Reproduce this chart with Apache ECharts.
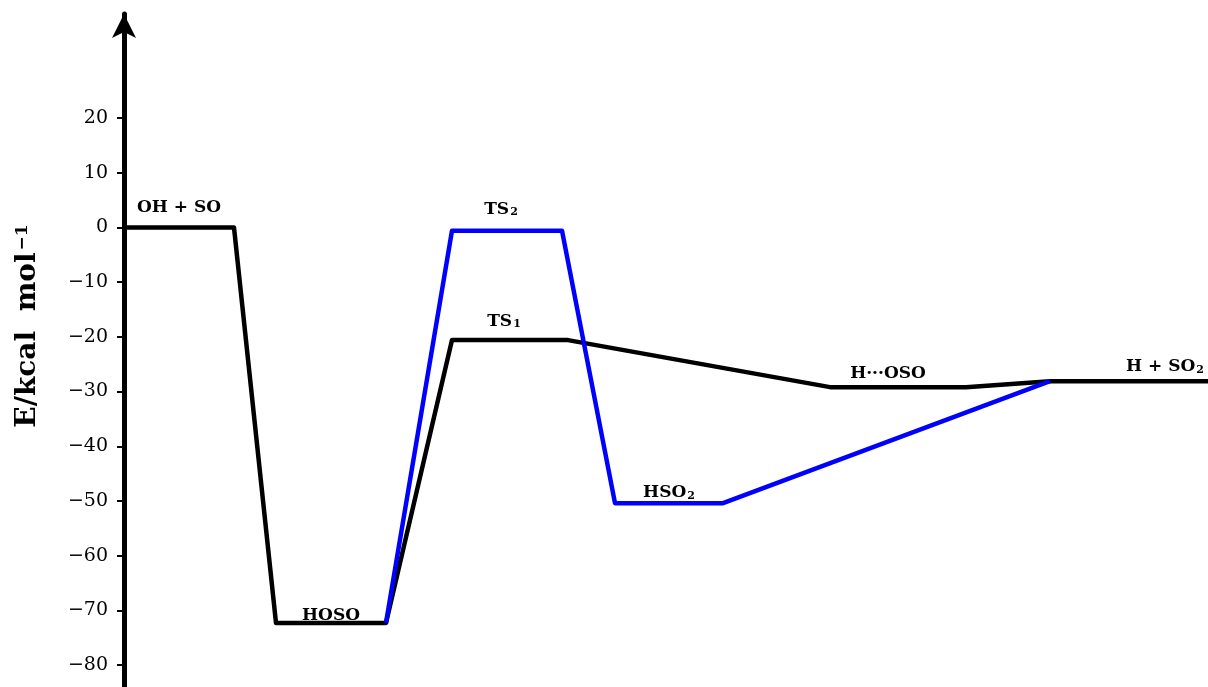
<!DOCTYPE html>
<html lang="en">
<head>
  <meta charset="UTF-8">
  <title>Energy profile</title>
  <script src="https://cdn.jsdelivr.net/npm/echarts@6/dist/echarts.min.js"></script>
  <style>
    html, body { margin: 0; padding: 0; background: #fff; }
    #main { width: 1208px; height: 687px; }
  </style>
</head>
<body>
  <div id="main"></div>
  <script>
    // reaction path, x is just position along the diagram
    var blackX = [0, 110, 152, 262, 328, 444, 706, 842, 926, 1084];
    var blackE = [0, 0, -72.3, -72.3, -20.6, -20.6, -29.2, -29.2, -28.1, -28.1];

    var blueX = [262, 328, 438, 491, 599, 926];
    var blueE = [-72.3, -0.6, -0.6, -50.4, -50.4, -28.1];

    // species names, which path they sit on and index of their plateau start
    var stateNames = ['OH + SO', 'HOSO', 'TS{s|1}', 'TS{s|2}', 'HSO{s|2}', 'H\u00b7\u00b7\u00b7OSO', 'H + SO{s|2}'];
    var statePath = ['black', 'black', 'black', 'blue', 'blue', 'black', 'black'];
    var stateIdx = [0, 2, 4, 1, 3, 6, 8];

    var yTicks = [20, 10, 0, -10, -20, -30, -40, -50, -60, -70, -80];

    // label placement tweaks (distance above line, x shift)
    var labelDist = [11, -1, 10, 13, 2, 5, 6];
    var labelShift = [0, 0, -6, -6, 0, -10, 36];

    var paths = {
      black: { x: blackX, e: blackE },
      blue: { x: blueX, e: blueE }
    };

    function zip(xs, ys) {
      var out = [];
      for (var i = 0; i < xs.length; i++) out.push([xs[i], ys[i]]);
      return out;
    }

    function labelData() {
      var out = [];
      for (var i = 0; i < stateNames.length; i++) {
        var p = paths[statePath[i]];
        var k = stateIdx[i];
        out.push({
          value: [(p.x[k] + p.x[k + 1]) / 2, p.e[k]],
          name: stateNames[i],
          label: { distance: labelDist[i], offset: [labelShift[i], 0] }
        });
      }
      return out;
    }

    var serif = '"DejaVu Serif", "Liberation Serif", serif';

    var chart = echarts.init(document.getElementById('main'));
    chart.setOption({
      animation: false,
      backgroundColor: '#fff',
      grid: { left: 124, right: 0, top: 14, bottom: 0 },
      xAxis: {
        type: 'value', min: 0, max: 1084, show: false
      },
      yAxis: {
        type: 'value',
        min: -84.0,
        max: 39.0,
        splitLine: { show: false },
        axisLine: {
          show: true,
          onZero: false,
          symbol: ['none', 'arrow'],
          symbolSize: [18, 24],
          lineStyle: { color: '#000', width: 5 }
        },
        axisTick: {
          show: true,
          length: 7,
          customValues: yTicks,
          lineStyle: { color: '#000', width: 2 }
        },
        axisLabel: {
          customValues: yTicks,
          margin: 16,
          color: '#000',
          fontFamily: serif,
          fontSize: 19,
          formatter: function (v) {
            return v < 0 ? '\u2212' + (-v) : String(v);
          }
        }
      },
      graphic: [{
        type: 'text',
        x: 28,
        y: 326,
        rotation: Math.PI / 2,
        style: {
          text: 'E/kcal  mol{sup|\u22121}',
          align: 'center',
          verticalAlign: 'middle',
          fill: '#000',
          font: 'bold 28px ' + serif,
          rich: {
            sup: { fontSize: 17, fontWeight: 'bold', fontFamily: serif, color: '#000', verticalAlign: 'top', padding: [0, 0, 10, 2] }
          }
        }
      }],
      series: [
        {
          type: 'line',
          name: 'black',
          data: zip(blackX, blackE),
          symbol: 'none',
          lineStyle: { color: '#000', width: 4.5, join: 'round' },
          z: 2
        },
        {
          type: 'line',
          name: 'blue',
          data: zip(blueX, blueE),
          symbol: 'none',
          lineStyle: { color: '#0000ff', width: 4.5, join: 'round' },
          z: 3
        },
        {
          type: 'scatter',
          name: 'labels',
          data: labelData(),
          symbolSize: 0,
          silent: true,
          z: 4,
          label: {
            show: true,
            position: 'top',
            formatter: '{b}',
            color: '#000',
            opacity: 1,
            textBorderWidth: 0,
            fontFamily: serif,
            fontWeight: 'bold',
            fontSize: 17,
            rich: {
              s: { fontSize: 11, fontWeight: 'bold', fontFamily: serif, color: '#000', verticalAlign: 'bottom', padding: [0, 0, 0, 1] }
            }
          }
        }
      ]
    });
  </script>
</body>
</html>
